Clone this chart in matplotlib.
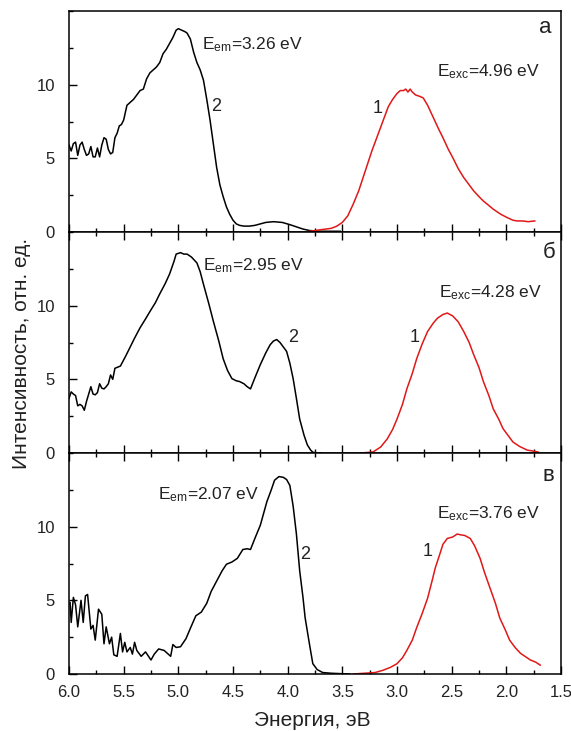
import matplotlib
matplotlib.use("Agg")
import matplotlib.pyplot as plt
from matplotlib.ticker import MultipleLocator

plt.rcParams['font.family'] = ['Liberation Sans', 'DejaVu Sans']
plt.rcParams['mathtext.fontset'] = 'custom'
plt.rcParams['mathtext.rm'] = 'Liberation Sans'
plt.rcParams['mathtext.it'] = 'Liberation Sans:italic'

# ---------------- data ----------------
a_em_x = [6.00, 5.98, 5.96, 5.94, 5.92, 5.90, 5.88, 5.86, 5.84, 5.82, 5.80, 5.78, 5.76, 5.74,
          5.72, 5.70, 5.68, 5.66, 5.64, 5.62, 5.60, 5.58, 5.56, 5.54, 5.52, 5.50, 5.47, 5.44,
          5.41, 5.38, 5.35, 5.32, 5.29, 5.26, 5.23, 5.20, 5.17, 5.14, 5.11, 5.08, 5.05, 5.02,
          5.00, 4.97, 4.94, 4.92, 4.89, 4.86, 4.83, 4.80, 4.77, 4.74, 4.71, 4.68, 4.65, 4.62,
          4.59, 4.56, 4.53, 4.50, 4.47, 4.44, 4.40, 4.35, 4.30, 4.25, 4.20, 4.13, 4.05, 3.98,
          3.92, 3.86, 3.80, 3.70, 3.60, 3.52]
a_em_y = [5.9, 5.5, 6.0, 6.1, 5.2, 5.9, 6.1, 5.6, 5.2, 5.3, 5.8, 5.1, 5.1, 5.7,
          5.1, 5.9, 6.4, 6.3, 5.6, 5.3, 5.4, 6.4, 6.7, 7.2, 7.3, 7.6, 8.6, 8.8,
          9.0, 9.3, 9.6, 9.7, 10.4, 10.8, 11.0, 11.2, 11.5, 12.1, 12.4, 12.8, 13.2, 13.7,
          13.8, 13.7, 13.6, 13.5, 13.1, 12.2, 11.5, 11.0, 10.3, 9.0, 7.6, 6.0, 4.4, 3.2,
          2.4, 1.7, 1.2, 0.8, 0.55, 0.45, 0.4, 0.4, 0.45, 0.55, 0.65, 0.7, 0.65, 0.5,
          0.35, 0.2, 0.1, 0.05, 0.05, 0.05]

a_exc_x = [3.80, 3.70, 3.60, 3.55, 3.50, 3.45, 3.40, 3.35, 3.31, 3.27, 3.23, 3.19, 3.15, 3.11,
           3.08, 3.04, 3.00, 2.97, 2.94, 2.92, 2.90, 2.88, 2.86, 2.83, 2.79, 2.76, 2.72, 2.67,
           2.62, 2.58, 2.53, 2.49, 2.44, 2.39, 2.34, 2.30, 2.25, 2.21, 2.16, 2.12, 2.05, 1.99,
           1.94, 1.90, 1.85, 1.80, 1.74]
a_exc_y = [0.05, 0.15, 0.25, 0.4, 0.65, 1.1, 1.9, 2.8, 3.7, 4.6, 5.5, 6.3, 7.1, 7.9,
           8.5, 9.0, 9.4, 9.6, 9.6, 9.7, 9.5, 9.7, 9.5, 9.3, 9.2, 9.1, 8.6, 7.8,
           7.0, 6.4, 5.6, 5.05, 4.3, 3.7, 3.2, 2.8, 2.4, 2.1, 1.8, 1.55, 1.2, 0.97,
           0.8, 0.75, 0.75, 0.7, 0.75]

b_em_x = [6.00, 5.98, 5.96, 5.94, 5.92, 5.90, 5.88, 5.86, 5.84, 5.82, 5.80, 5.78, 5.76, 5.74,
          5.72, 5.70, 5.68, 5.66, 5.64, 5.62, 5.60, 5.58, 5.53, 5.48, 5.44, 5.40, 5.35, 5.30,
          5.26, 5.21, 5.17, 5.12, 5.08, 5.04, 5.02, 4.98, 4.95, 4.92, 4.88, 4.83, 4.80, 4.77,
          4.72, 4.68, 4.63, 4.59, 4.55, 4.51, 4.47, 4.44, 4.40, 4.37, 4.34, 4.30, 4.25, 4.20,
          4.16, 4.13, 4.10, 4.07, 4.04, 4.01, 3.98, 3.95, 3.92, 3.89, 3.85, 3.82, 3.79, 3.77,
          3.73, 3.69]
b_em_y = [3.7, 4.15, 4.0, 3.9, 3.2, 3.3, 3.2, 2.9, 3.5, 4.0, 4.5, 4.0, 3.95, 4.1,
          4.7, 4.4, 4.35, 4.5, 4.7, 5.3, 5.0, 5.75, 5.9, 6.6, 7.2, 7.8, 8.5, 9.1,
          9.6, 10.2, 10.8, 11.5, 12.15, 13.0, 13.5, 13.6, 13.5, 13.5, 13.3, 12.9, 12.3, 11.45,
          10.1, 8.95, 7.6, 6.4, 5.6, 5.05, 4.9, 4.85, 4.7, 4.5, 4.35, 5.1, 6.0, 6.8,
          7.35, 7.6, 7.7, 7.5, 7.2, 6.9, 6.1, 5.05, 3.7, 2.3, 1.2, 0.55, 0.2, 0.05,
          0.0, 0.0]

b_exc_x = [3.34, 3.28, 3.22, 3.15, 3.09, 3.04, 3.00, 2.95, 2.91, 2.86, 2.82, 2.77, 2.72, 2.67,
           2.63, 2.58, 2.54, 2.49, 2.44, 2.39, 2.34, 2.30, 2.25, 2.21, 2.16, 2.12, 2.07, 2.03,
           1.98, 1.94, 1.88, 1.81, 1.71]
b_exc_y = [0.0, 0.03, 0.07, 0.4, 0.95, 1.6, 2.3, 3.3, 4.35, 5.4, 6.4, 7.4, 8.25, 8.8,
           9.15, 9.4, 9.5, 9.3, 8.9, 8.25, 7.5, 6.7, 5.8, 4.85, 3.9, 3.0, 2.3, 1.65,
           1.15, 0.75, 0.45, 0.2, 0.07]

c_em_x = [5.99, 5.98, 5.96, 5.94, 5.92, 5.89, 5.87, 5.85, 5.83, 5.80, 5.78, 5.76, 5.73, 5.70,
          5.68, 5.66, 5.63, 5.61, 5.59, 5.56, 5.53, 5.51, 5.49, 5.47, 5.44, 5.42, 5.40, 5.38,
          5.34, 5.30, 5.25, 5.22, 5.18, 5.13, 5.07, 5.05, 5.02, 4.98, 4.93, 4.89, 4.84, 4.79,
          4.74, 4.70, 4.65, 4.60, 4.56, 4.51, 4.46, 4.41, 4.37, 4.34, 4.30, 4.25, 4.22, 4.19,
          4.15, 4.12, 4.08, 4.04, 4.01, 3.98, 3.95, 3.92, 3.89, 3.86, 3.84, 3.80, 3.77, 3.73,
          3.68, 3.60, 3.50, 3.43]
c_em_y = [4.85, 3.5, 5.2, 4.7, 3.2, 5.0, 3.5, 5.3, 5.4, 3.05, 3.3, 2.3, 4.4, 4.05,
          2.05, 3.2, 2.05, 2.5, 1.3, 1.2, 2.75, 1.5, 2.15, 1.5, 1.8, 1.35, 2.15, 1.6,
          1.2, 1.5, 0.95, 1.35, 1.7, 1.6, 1.2, 2.0, 1.8, 1.85, 2.4, 3.1, 3.95, 4.2,
          4.8, 5.6, 6.3, 7.0, 7.45, 7.6, 7.85, 8.45, 8.5, 8.45, 9.2, 10.1, 10.9, 11.7,
          12.5, 13.15, 13.4, 13.35, 13.2, 12.8, 11.4, 9.5, 7.0, 5.2, 3.8, 2.0, 0.7, 0.3,
          0.1, 0.05, 0.02, 0.0]

c_exc_x = [3.40, 3.30, 3.20, 3.13, 3.06, 3.00, 2.95, 2.91, 2.86, 2.82, 2.77, 2.72, 2.68, 2.65,
           2.61, 2.58, 2.54, 2.49, 2.45, 2.42, 2.38, 2.33, 2.29, 2.24, 2.20, 2.15, 2.10, 2.06,
           2.01, 1.97, 1.92, 1.87, 1.82, 1.78, 1.73, 1.69]
c_exc_y = [0.0, 0.05, 0.1, 0.25, 0.45, 0.7, 1.1, 1.6, 2.3, 3.15, 4.1, 5.15, 6.3, 7.2,
           8.1, 8.8, 9.2, 9.3, 9.5, 9.45, 9.4, 9.2, 8.7, 7.85, 6.9, 5.85, 4.8, 3.8,
           3.0, 2.3, 1.8, 1.4, 1.15, 0.95, 0.8, 0.6]

panel_letters = ['а', 'б', 'в']
em_labels = [r'E$_{\rm em}$=3.26 eV', r'E$_{\rm em}$=2.95 eV', r'E$_{\rm em}$=2.07 eV']
exc_labels = [r'E$_{\rm exc}$=4.96 eV', r'E$_{\rm exc}$=4.28 eV', r'E$_{\rm exc}$=3.76 eV']
xticks = [6.0, 5.5, 5.0, 4.5, 4.0, 3.5, 3.0, 2.5, 2.0, 1.5]
yticks = [0, 5, 10]

# annotation positions (data coords)
em_pos = [(4.78, 12.7), (4.77, 12.7), (5.19, 12.2)]
exc_pos = [(2.63, 10.9), (2.62, 10.85), (2.63, 10.9)]
n2_pos = [(4.65, 8.5), (3.95, 7.85), (3.84, 8.1)]
n1_pos = [(3.18, 8.4), (2.84, 7.85), (2.72, 8.3)]
letter_pos = [(1.64, 13.9), (1.61, 13.6), (1.62, 13.5)]

em_data = [(a_em_x, a_em_y), (b_em_x, b_em_y), (c_em_x, c_em_y)]
exc_data = [(a_exc_x, a_exc_y), (b_exc_x, b_exc_y), (c_exc_x, c_exc_y)]

# ---------------- plot ----------------
fig, axes = plt.subplots(3, 1, figsize=(5.71, 7.31), dpi=100, sharex=True)
fig.subplots_adjust(left=69/571, right=561/571, top=1-11/731, bottom=1-674/731, hspace=0)

txtc = '#222222'
red = '#e01818'
for i, ax in enumerate(axes):
    ex, ey = em_data[i]
    rx, ry = exc_data[i]
    ax.plot(ex, ey, color='black', lw=1.1)
    ax.plot(rx, ry, color=red, lw=1.1)
    ax.set_xlim(6.0, 1.5)
    ax.set_ylim(0, 15)
    ax.set_yticks(yticks)
    ax.yaxis.set_minor_locator(MultipleLocator(2.5))
    ax.set_xticks(xticks)
    ax.xaxis.set_minor_locator(MultipleLocator(0.25))
    ax.tick_params(axis='both', which='major', direction='in', length=6, width=1,
                   labelsize=12, labelcolor=txtc)
    ax.tick_params(axis='both', which='minor', direction='in', length=3, width=1)
    ax.tick_params(axis='y', which='both', pad=10, left=True, right=False)
    ax.tick_params(axis='x', which='both', pad=8, top=(i > 0), bottom=True)
    for s in ax.spines.values():
        s.set_linewidth(1.1)
    ax.text(*em_pos[i], em_labels[i], fontsize=12.5, color=txtc, ha='left', va='center')
    ax.text(*exc_pos[i], exc_labels[i], fontsize=12.5, color=txtc, ha='left', va='center')
    ax.text(*n2_pos[i], '2', fontsize=13, color=txtc, ha='center', va='center')
    ax.text(*n1_pos[i], '1', fontsize=13, color=txtc, ha='center', va='center')
    ax.text(*letter_pos[i], panel_letters[i], fontsize=16, color=txtc, ha='center', va='center')

fig.text(22/571, 1-353/731, 'Интенсивность, отн. ед.', rotation=90, fontsize=15,
         color=txtc, ha='center', va='center')
fig.text(312/571, 1-721/731, 'Энергия, эВ', fontsize=15, color=txtc, ha='center', va='center')

fig.savefig('out.png', dpi=100)
